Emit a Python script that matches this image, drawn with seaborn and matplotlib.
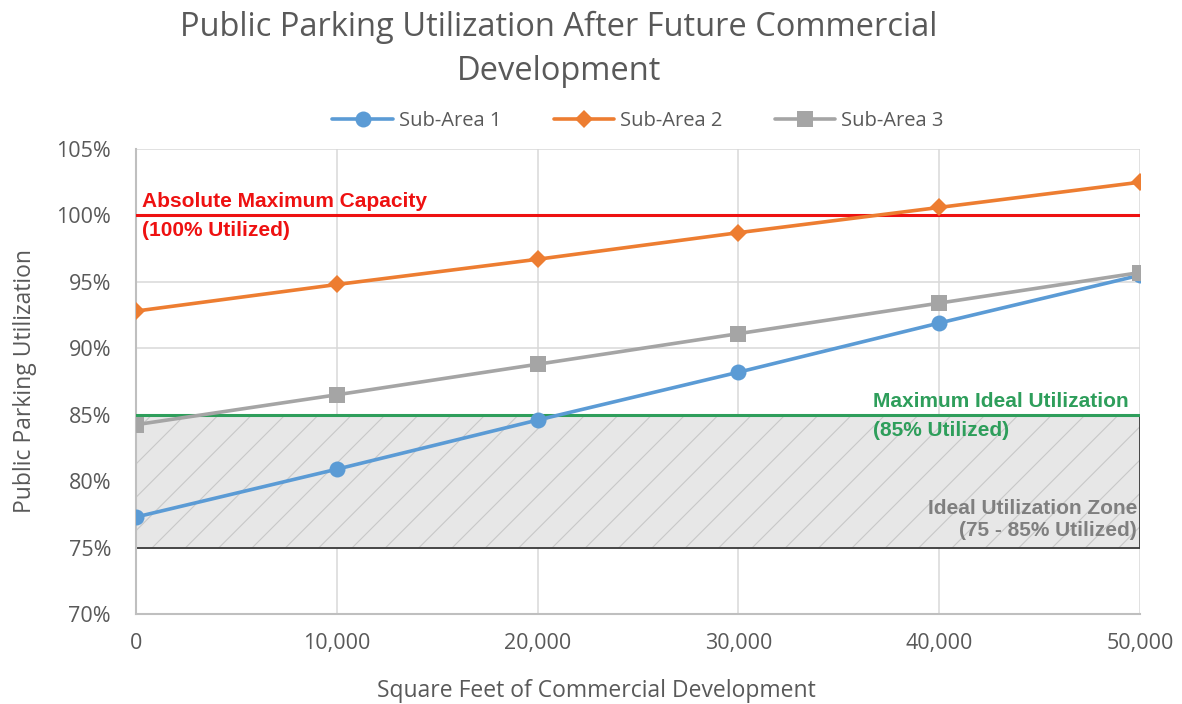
import matplotlib
matplotlib.use("Agg")
import matplotlib.pyplot as plt
import matplotlib.patches as mpatches
from matplotlib.ticker import FuncFormatter, MultipleLocator
import seaborn as sns
import pandas as pd

sqft = [0, 10000, 20000, 30000, 40000, 50000]
sub_area_1 = [77.3, 80.9, 84.6, 88.2, 91.9, 95.5]
sub_area_2 = [92.8, 94.8, 96.7, 98.7, 100.6, 102.5]
sub_area_3 = [84.25, 86.5, 88.8, 91.1, 93.4, 95.7]
series_names = ["Sub-Area 1", "Sub-Area 2", "Sub-Area 3"]
max_capacity = 100
ideal_low, ideal_high = 75, 85

sns.set_theme(style="white")
plt.rcParams["font.family"] = ["Open Sans", "DejaVu Sans"]
plt.rcParams["hatch.linewidth"] = 0.8

df = pd.DataFrame({
    "sqft": sqft * 3,
    "util": sub_area_1 + sub_area_2 + sub_area_3,
    "series": [s for s in series_names for _ in sqft],
})

colors = {"Sub-Area 1": "#5B9BD5", "Sub-Area 2": "#ED7D31", "Sub-Area 3": "#A5A5A5"}
markers = {"Sub-Area 1": "o", "Sub-Area 2": "D", "Sub-Area 3": "s"}
msize = {"Sub-Area 1": 11.5, "Sub-Area 2": 9, "Sub-Area 3": 11}

fig = plt.figure(figsize=(11.82, 7.04), dpi=100)
ax = fig.add_axes([0.1151, 0.1278, 0.9645 - 0.1151, 0.7884 - 0.1278])

# ideal zone
ax.add_patch(mpatches.Rectangle((sqft[0], ideal_low), sqft[-1] - sqft[0], ideal_high - ideal_low,
                                facecolor="#e7e7e7", edgecolor="#c8c8c8", hatch="/", linewidth=0, zorder=1))
ax.add_patch(mpatches.Rectangle((sqft[0], ideal_low), sqft[-1] - sqft[0], ideal_high - ideal_low,
                                facecolor="none", edgecolor="#3a3a3a", linewidth=1.3, zorder=2))

ax.axhline(max_capacity, color="#EE1111", linewidth=2.2, zorder=3)
ax.axhline(ideal_high, color="#2E9E5B", linewidth=2.2, zorder=3)

for name in series_names:
    sub = df[df["series"] == name]
    sns.lineplot(data=sub, x="sqft", y="util", ax=ax, color=colors[name], marker=markers[name],
                 markersize=msize[name], markeredgewidth=0, linewidth=2.6, label=name, zorder=5)

ax.set_xlim(sqft[0], sqft[-1])
ax.set_ylim(70, 105)
ax.xaxis.set_major_locator(MultipleLocator(10000))
ax.yaxis.set_major_locator(MultipleLocator(5))
ax.xaxis.set_major_formatter(FuncFormatter(lambda v, p: f"{int(v):,}"))
ax.yaxis.set_major_formatter(FuncFormatter(lambda v, p: f"{int(round(v))}%"))
ax.grid(True, color="#d9d9d9", linewidth=1.1, zorder=0)
ax.set_axisbelow(True)
for s in ["top", "right"]:
    ax.spines[s].set_visible(False)
for s in ["left", "bottom"]:
    ax.spines[s].set_color("#bfbfbf")
    ax.spines[s].set_linewidth(1.5)
ax.tick_params(axis="both", colors="#595959", labelsize=15.5, length=0)
ax.tick_params(axis="y", pad=18)
ax.tick_params(axis="x", pad=14)

ax.set_xlabel("Square Feet of Commercial Development", fontsize=16.5, color="#595959")
ax.xaxis.set_label_coords(0.458, -0.140)
ax.set_ylabel("Public Parking Utilization", fontsize=16.5, color="#595959", labelpad=14)

fig.suptitle("Public Parking Utilization After Future Commercial\nDevelopment", x=0.473, y=0.985,
             fontsize=23.5, color="#595959", linespacing=1.45)

leg = ax.legend(loc="lower center", bbox_to_anchor=(0.5, 1.0), ncol=3, frameon=False,
                fontsize=14.5, handlelength=3.0, columnspacing=2.6, handletextpad=0.3)
for t in leg.get_texts():
    t.set_color("#595959")

bold = dict(family=["Liberation Sans", "DejaVu Sans"], fontweight="bold", fontsize=15)
ax.text(300, 100.3, "Absolute Maximum Capacity", color="#EE1111", ha="left", va="bottom", **bold)
ax.text(300, 99.55, "(100% Utilized)", color="#EE1111", ha="left", va="top", **bold)
ax.text(36700, 85.3, "Maximum Ideal Utilization", color="#2E9E5B", ha="left", va="bottom", **bold)
ax.text(36700, 84.55, "(85% Utilized)", color="#2E9E5B", ha="left", va="top", **bold)
ax.text(49850, 75.55, "Ideal Utilization Zone\n(75 - 85% Utilized)", color="#7f7f7f", ha="right",
        va="bottom", linespacing=1.2, **bold)

fig.savefig("out.png", dpi=100)
